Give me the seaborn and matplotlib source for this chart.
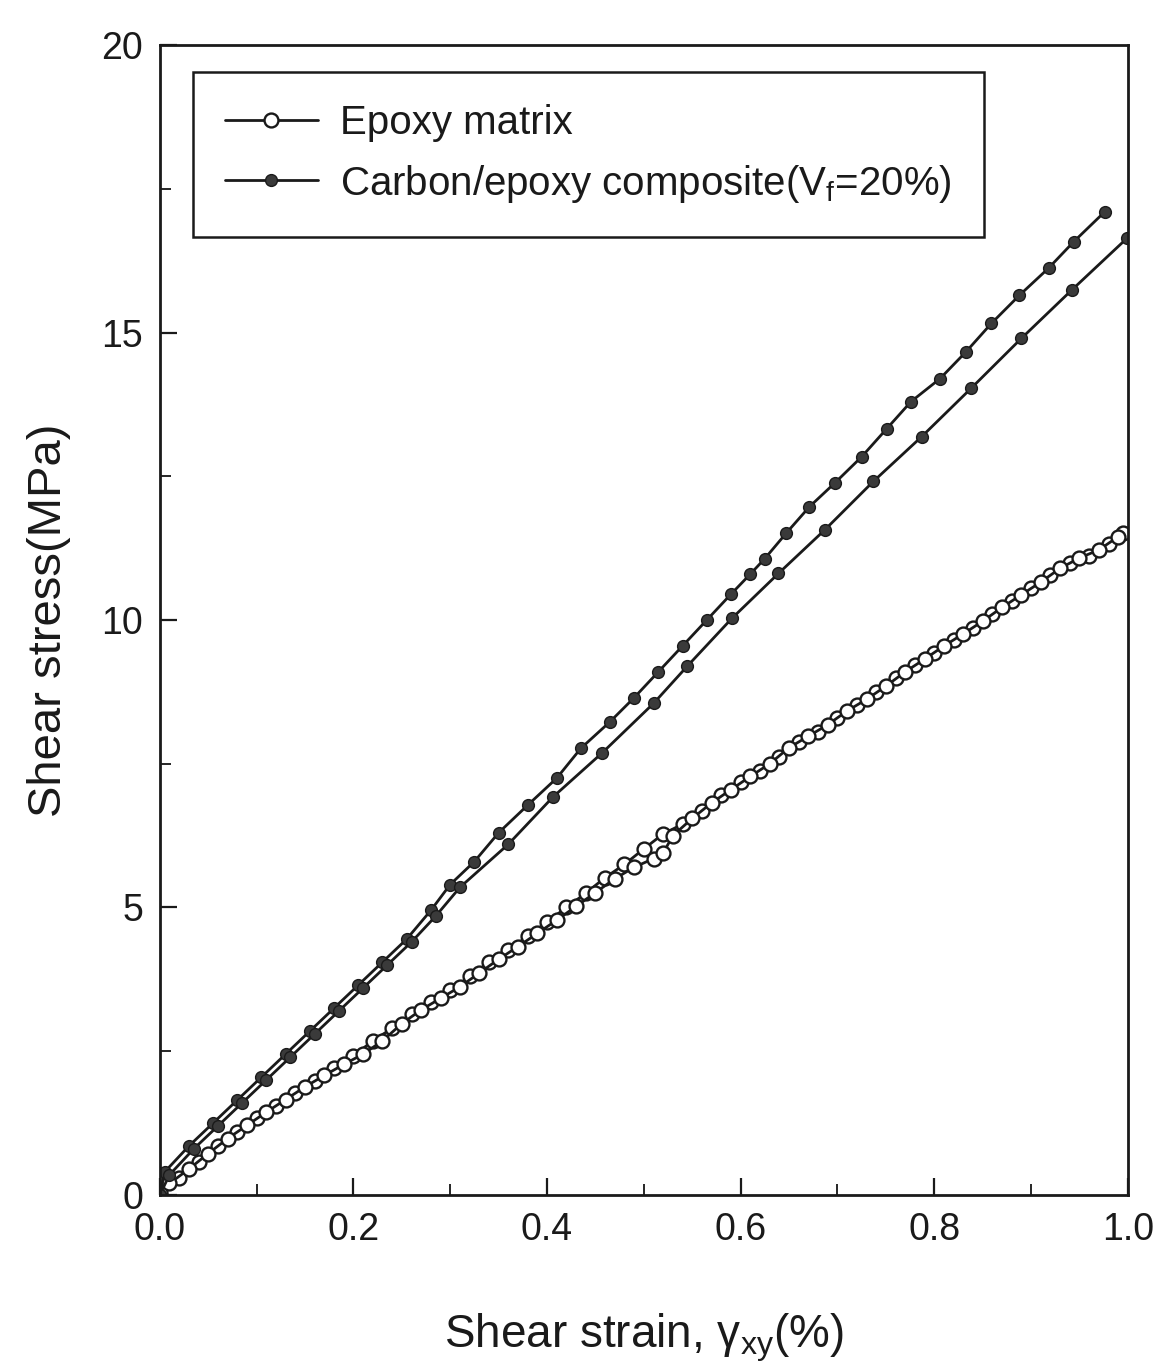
import matplotlib
matplotlib.use("Agg")
import matplotlib.pyplot as plt
from matplotlib.ticker import MultipleLocator
import seaborn as sns
import pandas as pd

# ---------------- data ----------------
epoxy_a_x = [0.000, 0.02, 0.04, 0.06, 0.08, 0.10, 0.12, 0.14, 0.16, 0.18, 0.20, 0.22, 0.24, 0.26,
             0.28, 0.30, 0.32, 0.34, 0.36, 0.38, 0.40, 0.42, 0.44, 0.46, 0.48, 0.50, 0.52, 0.54,
             0.56, 0.58, 0.60, 0.62, 0.64, 0.66, 0.68, 0.70, 0.72, 0.74, 0.76, 0.78, 0.80, 0.82,
             0.84, 0.86, 0.88, 0.90, 0.92, 0.94, 0.96, 0.98, 0.995]
epoxy_a_y = [0.00, 0.30, 0.58, 0.85, 1.10, 1.33, 1.55, 1.78, 1.98, 2.20, 2.42, 2.68, 2.90, 3.14,
             3.36, 3.56, 3.80, 4.05, 4.26, 4.50, 4.75, 5.00, 5.25, 5.52, 5.75, 6.02, 6.28, 6.45,
             6.68, 6.95, 7.18, 7.38, 7.62, 7.88, 8.05, 8.30, 8.52, 8.75, 9.00, 9.22, 9.43, 9.66,
             9.86, 10.10, 10.33, 10.55, 10.78, 11.00, 11.12, 11.32, 11.52]

epoxy_b_x = [0.00, 0.01, 0.03, 0.05, 0.07, 0.09, 0.11, 0.13, 0.15, 0.17, 0.19, 0.21, 0.23, 0.25,
             0.27, 0.29, 0.31, 0.33, 0.35, 0.37, 0.39, 0.41, 0.43, 0.45, 0.47, 0.49, 0.51, 0.52,
             0.53, 0.55, 0.57, 0.59, 0.61, 0.63, 0.65, 0.67, 0.69, 0.71, 0.73, 0.75, 0.77, 0.79,
             0.81, 0.83, 0.85, 0.87, 0.89, 0.91, 0.93, 0.95, 0.97, 0.99]
epoxy_b_y = [0.05, 0.20, 0.45, 0.72, 0.98, 1.21, 1.44, 1.66, 1.88, 2.08, 2.27, 2.45, 2.68, 2.98,
             3.22, 3.42, 3.62, 3.86, 4.10, 4.32, 4.55, 4.78, 5.02, 5.26, 5.50, 5.70, 5.85, 5.95,
             6.25, 6.55, 6.82, 7.05, 7.28, 7.50, 7.78, 7.98, 8.18, 8.42, 8.62, 8.85, 9.10, 9.32,
             9.55, 9.76, 9.98, 10.22, 10.44, 10.66, 10.90, 11.08, 11.22, 11.45]

comp_a_x = [0.000, 0.005, 0.03, 0.055, 0.08, 0.105, 0.13, 0.155, 0.18, 0.205, 0.23, 0.255, 0.28,
            0.30, 0.325, 0.35, 0.38, 0.41, 0.435, 0.465, 0.49, 0.515, 0.54, 0.565, 0.59, 0.61,
            0.625, 0.647, 0.671, 0.697, 0.725, 0.751, 0.776, 0.806, 0.833, 0.859, 0.888, 0.918,
            0.944, 0.976]
comp_a_y = [0.00, 0.40, 0.85, 1.25, 1.65, 2.05, 2.45, 2.85, 3.25, 3.65, 4.05, 4.45, 4.95,
            5.40, 5.80, 6.30, 6.78, 7.25, 7.77, 8.23, 8.65, 9.10, 9.55, 10.00, 10.45, 10.80,
            11.07, 11.51, 11.97, 12.38, 12.84, 13.33, 13.80, 14.20, 14.67, 15.16, 15.65, 16.12,
            16.58, 17.10]

comp_b_x = [0.000, 0.01, 0.035, 0.06, 0.085, 0.11, 0.135, 0.16, 0.185, 0.21, 0.235, 0.26, 0.285,
            0.31, 0.36, 0.406, 0.457, 0.51, 0.545, 0.591, 0.639, 0.687, 0.737, 0.787, 0.838,
            0.890, 0.942, 0.999]
comp_b_y = [0.00, 0.35, 0.80, 1.20, 1.60, 2.00, 2.40, 2.80, 3.20, 3.60, 4.00, 4.40, 4.85,
            5.35, 6.10, 6.92, 7.69, 8.55, 9.20, 10.03, 10.81, 11.57, 12.41, 13.19, 14.03,
            14.90, 15.74, 16.64]

labels = ["Epoxy matrix", "Carbon/epoxy composite(V$_\\mathregular{f}$=20%)"]
x_label = "Shear strain, γ$_\\mathregular{xy}$(%)"
y_label = "Shear stress(MPa)"
x_ticks = [0.0, 0.2, 0.4, 0.6, 0.8, 1.0]
x_tick_labels = ["0.0", "0.2", "0.4", "0.6", "0.8", "1.0"]
y_ticks = [0, 5, 10, 15, 20]
y_tick_labels = ["0", "5", "10", "15", "20"]

# ---------------- style ----------------
sns.set_style("ticks")
plt.rcParams["font.family"] = ["Liberation Sans", "DejaVu Sans"]
plt.rcParams["mathtext.fontset"] = "custom"
plt.rcParams["mathtext.rm"] = "Liberation Sans"
plt.rcParams["mathtext.it"] = "Liberation Sans:italic"

fig = plt.figure(figsize=(11.58, 13.68), dpi=100)
ax = fig.add_axes([0.138, 0.1265, 0.836, 0.8405])

ink = "#1a1a1a"
series = [
    (epoxy_a_x, epoxy_a_y, "open", labels[0]),
    (epoxy_b_x, epoxy_b_y, "open", None),
    (comp_a_x, comp_a_y, "filled", labels[1]),
    (comp_b_x, comp_b_y, "filled", None),
]
for xs, ys, kind, lab in series:
    df = pd.DataFrame({"x": xs, "y": ys})
    if kind == "open":
        kw = dict(marker="o", markersize=10, markerfacecolor="white",
                  markeredgecolor=ink, markeredgewidth=1.7)
    else:
        kw = dict(marker="o", markersize=8.5, markerfacecolor="#3a3a3a",
                  markeredgecolor=ink, markeredgewidth=1.0)
    sns.lineplot(data=df, x="x", y="y", ax=ax, color=ink, linewidth=2.0,
                 estimator=None, sort=False, label=lab, legend=False, **kw)

ax.set_xlim(0, 1.0)
ax.set_ylim(0, 20)
ax.set_xticks(x_ticks)
ax.set_xticklabels(x_tick_labels)
ax.set_yticks(y_ticks)
ax.set_yticklabels(y_tick_labels)
ax.xaxis.set_minor_locator(MultipleLocator(0.1))
ax.yaxis.set_minor_locator(MultipleLocator(2.5))
ax.tick_params(axis="both", which="major", direction="in", length=12, width=1.6,
               labelsize=27, colors=ink, pad=12)
ax.tick_params(axis="both", which="minor", direction="in", length=8, width=1.4)
ax.tick_params(top=False, right=False, which="both")

for s in ax.spines.values():
    s.set_visible(True)
    s.set_linewidth(2.0)
    s.set_color(ink)

ax.set_xlabel(x_label, fontsize=33, color=ink, labelpad=46)
ax.set_ylabel(y_label, fontsize=34, color=ink, labelpad=22)

handles, labs = ax.get_legend_handles_labels()
leg = ax.legend(handles, labs, loc="upper left", bbox_to_anchor=(0.034, 0.9765),
                borderaxespad=0, fontsize=29, frameon=True, fancybox=False,
                edgecolor=ink, framealpha=1, handlelength=2.3, handletextpad=0.55,
                borderpad=0.8, labelspacing=0.5)
leg.get_frame().set_linewidth(1.8)
for t in leg.get_texts():
    t.set_color(ink)

fig.savefig("out.png", dpi=100, facecolor="white")
